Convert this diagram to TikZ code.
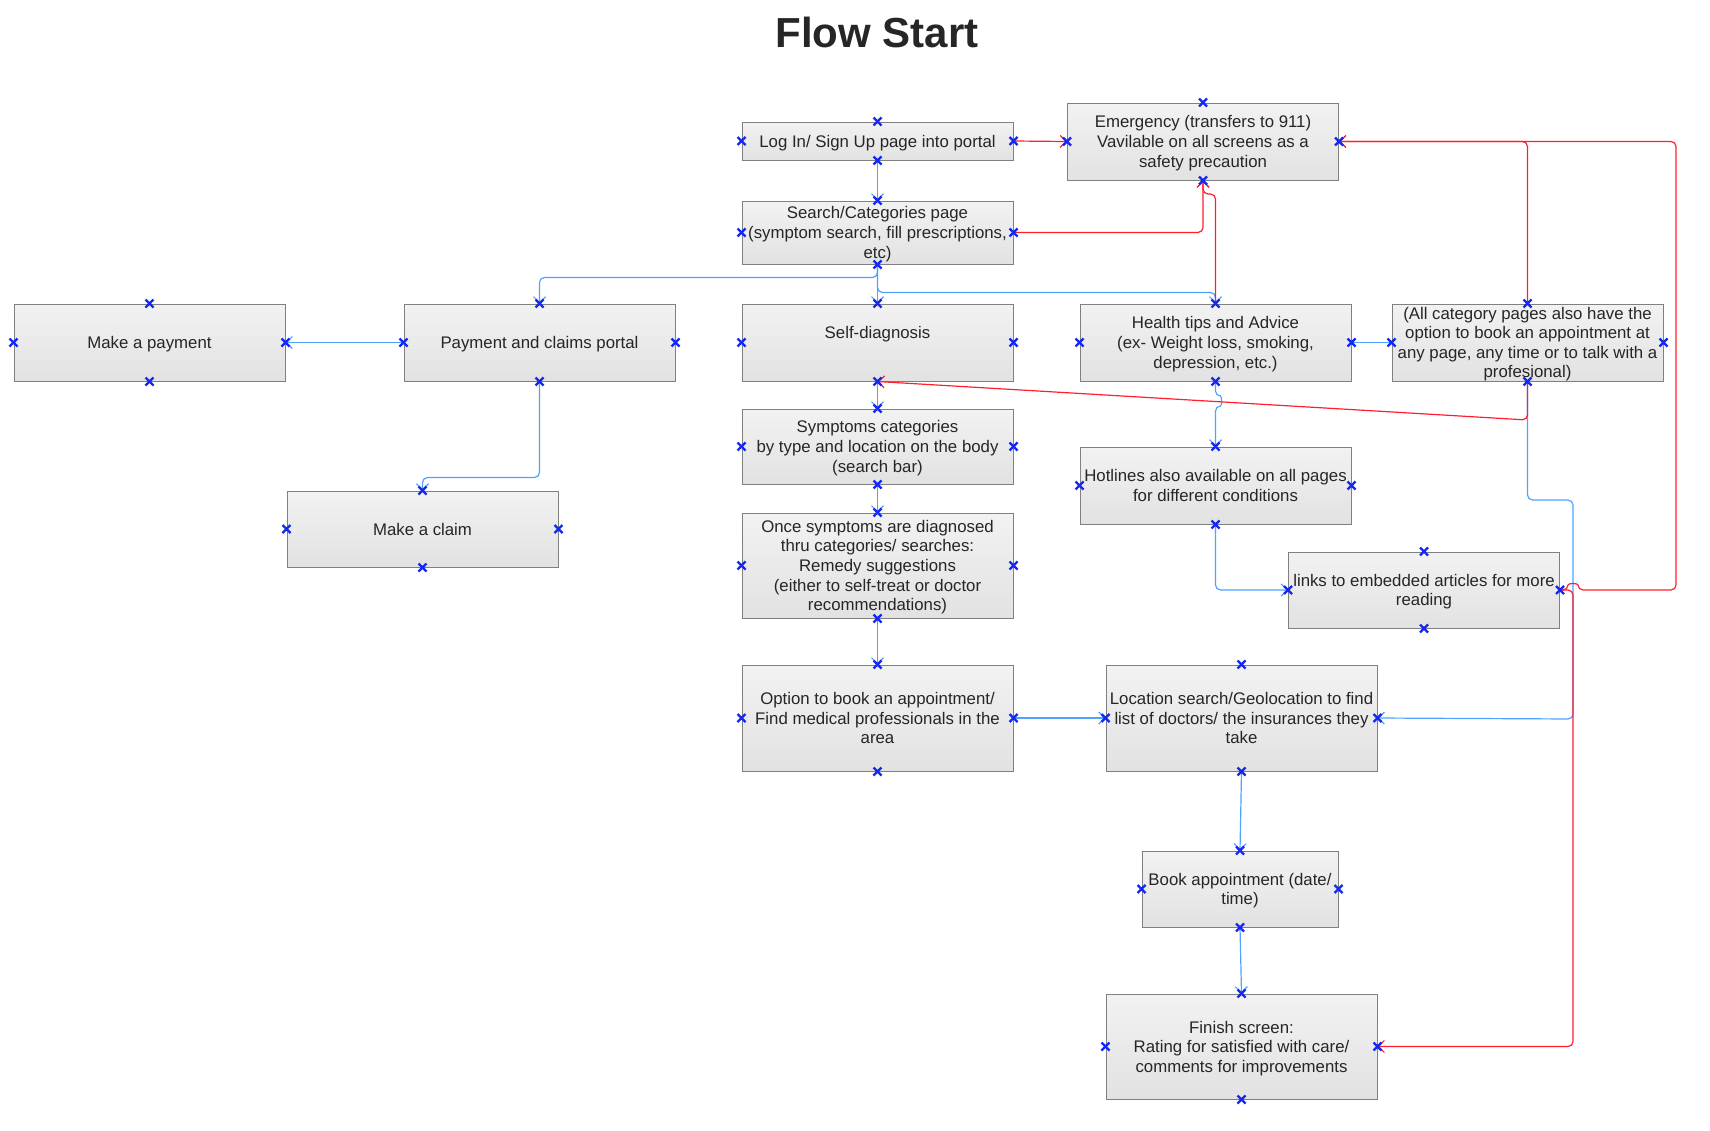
\documentclass[tikz,border=0pt]{standalone}
\usepackage{fontspec}
\setmainfont{Liberation Sans}
\usetikzlibrary{arrows.meta}
\definecolor{boxtop}{HTML}{F2F2F2}
\definecolor{boxbot}{HTML}{E2E2E2}
\definecolor{boxline}{HTML}{808080}
\definecolor{txtgray}{HTML}{262626}
\definecolor{conblue}{HTML}{4DA3FF}
\definecolor{conred}{HTML}{FF1E2D}
\definecolor{ptblue}{HTML}{1428F0}
\tikzset{>={Straight Barb[length=6pt,width=12pt]},
  box/.style={draw=boxline, line width=1pt, top color=boxtop, bottom color=boxbot,
    minimum width=271pt, minimum height=77pt, inner sep=0pt, align=center,
    text=txtgray, text depth=-4pt, font=\fontsize{16.8}{19.6}\selectfont},
  blueline/.style={draw=conblue, line width=1.2pt, rounded corners=5pt},
  redline/.style={draw=conred, line width=1.2pt, rounded corners=5pt},
  xmark/.style={draw=ptblue, line width=2.2pt}}
\newcommand\cpx[1]{\draw[xmark] (#1) ++(-4,-4) -- ++(8,8) ++(-8,0) -- ++(8,-8);}

\begin{document}
\begin{tikzpicture}[x=1pt,y=-1pt]
\useasboundingbox (0,0) rectangle (1710,1130);
\node[text=txtgray, font=\fontsize{42}{42}\selectfont\bfseries] (title) at (877,32) {Flow Start};
\node[box, minimum height=38pt] (login) at (877.5,141) {Log In/ Sign Up page into portal};
\node[box] (emerg) at (1203,141.5) {Emergency (transfers to 911)\\Vavilable on all screens as a\\safety precaution};
\node[box, minimum height=63pt] (search) at (877.5,232.5) {Search/Categories page\\(symptom search, fill prescriptions,\\etc)};
\node[box] (pay) at (149.5,342.5) {Make a payment};
\node[box] (portal) at (539.5,342.5) {Payment and claims portal};
\node[box] (selfdiag) at (877.5,342.5) {Self-diagnosis\\\mbox{}};
\node[box] (health) at (1215.5,342.5) {Health tips and Advice\\(ex- Weight loss, smoking,\\depression, etc.)};
\node[box] (allcat) at (1527.5,342.5) {(All category pages also have the\\option to book an appointment at\\any page, any time or to talk with a\\profesional)};
\node[box, minimum height=75pt] (symptoms) at (877.5,446.5) {Symptoms categories\\by type and location on the body\\(search bar)};
\node[box, minimum height=76pt] (claim) at (422.5,529) {Make a claim};
\node[box] (hotline) at (1215.5,485.5) {Hotlines also available on all pages\\for different conditions};
\node[box, minimum height=105pt] (remedy) at (877.5,565.5) {Once symptoms are diagnosed\\thru categories/ searches:\\Remedy suggestions\\(either to self-treat or doctor\\recommendations)};
\node[box, minimum height=76pt] (links) at (1424,590) {links to embedded articles for more\\reading};
\node[box, minimum height=106pt] (option) at (877.5,718) {Option to book an appointment/\\Find medical professionals in the\\area};
\node[box, minimum height=106pt] (locate) at (1241.5,718) {Location search/Geolocation to find\\list of doctors/ the insurances they\\take};
\node[box, minimum width=196pt, minimum height=76pt] (book) at (1240,889) {Book appointment (date/\\time)};
\node[box, minimum height=105pt] (finish) at (1241.5,1046.5) {Finish screen:\\Rating for satisfied with care/\\comments for improvements};

\draw[blueline,->] (login.south) -- (search.north);
\draw[blueline,->] (search.south) -- ++(0,13) -| (portal.north);
\draw[blueline,->] (search.south) -- (selfdiag.north);
\draw[blueline,->] (search.south) -- ++(0,28) -| (health.north);
\draw[blueline,->] (portal.west) -- (pay.east);
\draw[blueline,->] (portal.south) -- ++(0,96) -| (claim.north);
\draw[blueline,->] (selfdiag.south) -- (symptoms.north);
\draw[blueline,->] (symptoms.south) -- (remedy.north);
\draw[blueline,->] (remedy.south) -- (option.north);
\draw[blueline,->] (health.south) -- (1215.5,396) .. controls (1222,396) and (1222,406) .. (1215.5,406) -- (hotline.north);
\draw[blueline,->] (hotline.south) |- (links.west);
\draw[blueline] (health.east) -- (allcat.west);
\draw[blueline,->] (option.east) -- (locate.west);
\draw[blueline,->] (allcat.south) -- (1527.5,500) -| (1573,719) -- (locate.east);
\draw[blueline,->] (locate.south) -- (book.north);
\draw[blueline,->] (book.south) -- (finish.north);

\draw[redline,->] (login.east) -- (emerg.west);
\draw[redline,->] (search.east) -| (emerg.south);
\draw[redline,->] (health.north) -- (1215.5,194) -| (emerg.south);
\draw[redline,->] (allcat.north) |- (emerg.east);
\draw[redline,->] (allcat.south) -- (1527.5,420) -- (selfdiag.south);
\draw[redline,->] (links.east) -- (1568,590) .. controls (1568,583) and (1578,583) .. (1578,590) -- (1676,590) |- (emerg.east);
\draw[redline,->] (links.east) -- (1573,590) |- (finish.east);

\foreach \n in {login,emerg,search,pay,portal,selfdiag,health,allcat,symptoms,claim,hotline,remedy,links,option,locate,book,finish}
  \foreach \a in {north,south,east,west} {\cpx{\n.\a}}
\end{tikzpicture}
\end{document}
